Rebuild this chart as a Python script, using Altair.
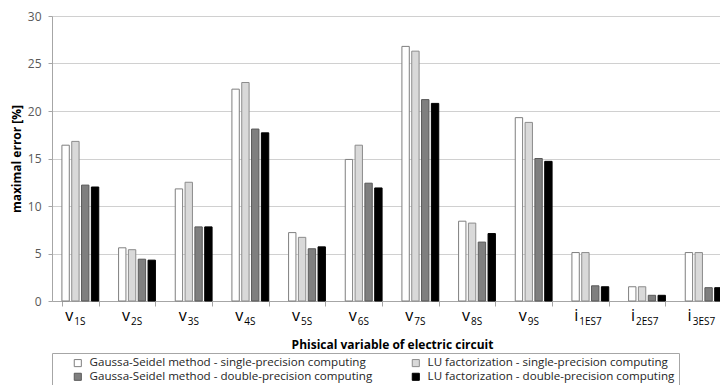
import altair as alt
import pandas as pd

# ---- data ----
categories = ["v1S", "v2S", "v3S", "v4S", "v5S", "v6S", "v7S", "v8S", "v9S",
              "i1ES7", "i2ES7", "i3ES7"]
letters = ["v"] * 9 + ["i"] * 3
subscripts = ["1S", "2S", "3S", "4S", "5S", "6S", "7S", "8S", "9S",
              "1ES7", "2ES7", "3ES7"]

series = [
    "Gaussa-Seidel method - single-precision computing",
    "LU factorization - single-precision computing",
    "Gaussa-Seidel method - double-precision computing",
    "LU factorization - double-precision computing",
]
gs_single = [16.4, 5.6, 11.8, 22.3, 7.2, 14.9, 26.8, 8.4, 19.3, 5.1, 1.5, 5.1]
lu_single = [16.8, 5.4, 12.5, 23.0, 6.7, 16.4, 26.3, 8.2, 18.8, 5.1, 1.5, 5.1]
gs_double = [12.2, 4.4, 7.8, 18.1, 5.5, 12.4, 21.2, 6.2, 15.0, 1.6, 0.6, 1.4]
lu_double = [12.0, 4.3, 7.8, 17.7, 5.7, 11.9, 20.8, 7.1, 14.7, 1.5, 0.6, 1.4]

fills = ["#ffffff", "#d9d9d9", "#7f7f7f", "#000000"]
strokes = ["#7f7f7f", "#8c8c8c", "#595959", "#000000"]

# legend is filled column by column, so list its entries in that order
legend_order = [series[0], series[2], series[1], series[3]]
legend_fills = [fills[0], fills[2], fills[1], fills[3]]
legend_strokes = [strokes[0], strokes[2], strokes[1], strokes[3]]

rows = []
for s, vals in zip(series, [gs_single, lu_single, gs_double, lu_double]):
    for c, v in zip(categories, vals):
        rows.append({"cat": c, "series": s, "value": v})
df = pd.DataFrame(rows)
labels_df = pd.DataFrame({"cat": categories, "letter": letters, "sub": subscripts})

FONT = "Open Sans"
W, H = 668, 285      # visible plot width; the band axis runs on past the right edge
XRANGE = 680

x_scale = alt.Scale(domain=categories, range=[0, XRANGE], paddingInner=0.35, paddingOuter=0.175)

x_enc = alt.X(
    "cat:N", sort=categories, scale=x_scale,
    axis=alt.Axis(labels=False, title="Phisical variable of electric circuit",
                  tickBand="extent", domainColor="#a6a6a6", tickColor="#a6a6a6",
                  tickSize=5, titleFontWeight="bold", titleFontSize=12,
                  titleColor="#000000", titleFont=FONT,
                  titleY=43, titleBaseline="middle"),
)

bars = alt.Chart(df).mark_bar(strokeWidth=1).encode(
    x=x_enc,
    xOffset=alt.XOffset("series:N", sort=series, scale=alt.Scale(domain=series, paddingInner=0.25)),
    y=alt.Y("value:Q", scale=alt.Scale(domain=[0, 30]),
            axis=alt.Axis(values=[0, 5, 10, 15, 20, 25, 30], title="maximal error [%]",
                          titleFontWeight="bold", titleFontSize=12, titleColor="#000000",
                          titleFont=FONT, titlePadding=4,
                          gridColor="#d0d0d0", domainColor="#a6a6a6", tickColor="#a6a6a6",
                          tickSize=4, labelFontSize=12, labelColor="#595959",
                          labelFont=FONT, labelPadding=7)),
    fill=alt.Fill("series:N", scale=alt.Scale(domain=legend_order, range=legend_fills),
                  legend=alt.Legend(orient="none", legendX=0, legendY=337, columns=2,
                                    title=" ", titleOrient="left", titlePadding=16,
                                    symbolType="square", symbolSize=50,
                                    symbolStrokeColor="#595959", symbolStrokeWidth=1,
                                    labelFont=FONT, labelFontSize=11.6, labelColor="#262626",
                                    labelOffset=6, labelLimit=400, columnPadding=37,
                                    rowPadding=1, strokeColor="#a6a6a6", padding=4)),
    stroke=alt.Stroke("series:N", scale=alt.Scale(domain=legend_order, range=legend_strokes),
                      legend=None),
)

def label_layer(kind, field, size, align, dx, ypos):
    return alt.Chart(labels_df).transform_filter(alt.datum.letter == kind).mark_text(
        align=align, baseline="alphabetic", fontSize=size, font=FONT, color="#000000", dx=dx
    ).encode(x=alt.X("cat:N", sort=categories, scale=x_scale),
             y=alt.value(ypos), text=f"{field}:N")

v_let = label_layer("v", "letter", 16, "right", -7, H + 20)
i_let = label_layer("i", "letter", 16, "right", -12, H + 20)
v_sub = label_layer("v", "sub", 10, "left", -6, H + 24)
i_sub = label_layer("i", "sub", 10, "left", -11, H + 24)

chart = alt.layer(bars, v_let, i_let, v_sub, i_sub).properties(
    width=W, height=H,
    autosize=alt.AutoSizeParams(type="none"),
    padding={"left": 44, "top": 8, "right": 0, "bottom": 84},
).configure_view(stroke=None).configure(font=FONT)

chart.save("out.html", embed_options={"renderer": "svg", "actions": False})
